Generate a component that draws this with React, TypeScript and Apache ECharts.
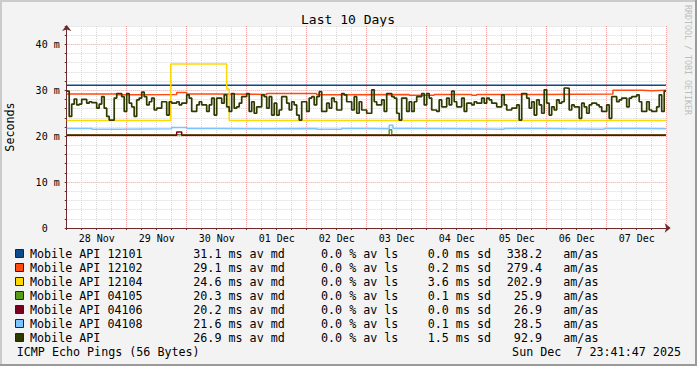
import React, { useEffect, useRef } from 'react';
import * as echarts from 'echarts';

// ---------- data ----------
const dayLabels = ['28 Nov', '29 Nov', '30 Nov', '01 Dec', '02 Dec', '03 Dec', '04 Dec', '05 Dec', '06 Dec', '07 Dec'];
const END_HOUR = 239.7;

const seriesNames = ['Mobile API 12101', 'Mobile API 12102', 'Mobile API 12104', 'Mobile API 04105', 'Mobile API 04106', 'Mobile API 04108', 'Mobile API'];
const seriesColors = ['#0b4a8c', '#ff4a10', '#ffd800', '#5a9a1a', '#7a0020', '#7cc4ff', '#2e3a00'];
const medians = ['31.1', '29.1', '24.6', '20.3', '20.2', '21.6', '26.9'];
const losses = ['0.0', '0.0', '0.0', '0.0', '0.0', '0.0', '0.0'];
const sds = ['0.0', '0.2', '3.6', '0.1', '0.0', '0.1', '1.5'];
const amas = ['338.2', '279.4', '202.9', '25.9', '26.9', '28.5', '92.9'];

// step points (hour since start, ms)
const h12101 = [0];
const v12101 = [31.1];
const h12102 = [0, 20, 26, 44, 48, 60, 80, 100, 104, 137, 147, 162, 164, 190, 218.5, 230, 234];
const v12102 = [29.2, 29.0, 29.1, 29.5, 29.2, 29.1, 29.3, 29.0, 29.1, 28.9, 29.1, 28.9, 29.1, 29.2, 30.0, 29.9, 30.0];
const h12104 = [0, 41.6, 64, 65];
const v12104 = [23.4, 35.7, 30.3, 23.4];
const h04105 = [0, 129, 130];
const v04105 = [20.3, 21.4, 20.3];
const h04106 = [0, 44, 46];
const v04106 = [20.2, 20.9, 20.2];
const h04108 = [0, 10, 20, 42, 48, 60, 80, 100, 110, 120, 129, 130.5, 140, 160, 175, 190, 200, 215, 230];
const v04108 = [21.7, 21.5, 21.6, 21.9, 21.7, 21.6, 21.7, 21.5, 21.7, 21.6, 22.4, 21.7, 21.6, 21.5, 21.7, 21.6, 21.5, 21.7, 21.6];
// Mobile API, hourly
const vApi = [
  29.8, 24.3, 27.0, 28.1, 26.8, 27.0, 28.0, 28.0, 27.2, 27.5, 27.3, 27.3,
  26.1, 27.0, 28.6, 26.1, 24.3, 23.5, 23.5, 28.3, 29.3, 29.3, 28.6, 25.4,
  29.3, 27.2, 26.4, 24.3, 27.9, 28.3, 29.6, 28.6, 26.8, 27.5, 28.3, 25.7,
  26.1, 26.1, 27.5, 27.5, 24.6, 27.5, 27.2, 27.2, 27.5, 26.8, 27.2, 27.2,
  29.0, 28.3, 25.4, 25.4, 26.8, 27.5, 26.8, 26.8, 25.4, 26.8, 28.3, 24.6,
  28.3, 28.3, 27.2, 29.0, 26.4, 25.4, 29.3, 26.1, 26.4, 27.2, 28.6, 28.6,
  29.3, 25.4, 27.5, 25.0, 26.4, 26.4, 29.0, 28.6, 26.1, 28.6, 24.6, 27.2,
  24.6, 25.7, 28.6, 28.6, 27.2, 25.7, 27.5, 26.8, 24.6, 23.5, 27.5, 27.5,
  25.4, 28.3, 28.6, 26.8, 28.6, 29.7, 25.4, 25.4, 27.2, 26.1, 28.3, 27.5,
  25.7, 25.7, 29.3, 29.0, 27.5, 27.5, 25.7, 28.6, 25.0, 27.5, 25.7, 25.7,
  25.0, 25.0, 30.1, 27.5, 26.8, 26.8, 27.9, 25.4, 29.3, 29.3, 28.6, 28.3,
  25.0, 23.5, 28.3, 28.3, 25.4, 27.5, 25.4, 27.5, 28.6, 28.6, 29.3, 26.8,
  29.3, 28.3, 25.7, 25.7, 25.4, 27.9, 26.4, 26.4, 28.3, 26.8, 29.8, 27.5,
  26.4, 26.4, 28.3, 25.4, 27.2, 27.2, 26.8, 27.5, 27.2, 27.2, 28.3, 27.2,
  28.3, 27.9, 27.2, 27.2, 26.4, 26.4, 29.0, 26.8, 25.7, 25.7, 26.1, 26.1,
  26.8, 23.5, 29.3, 29.3, 28.3, 26.1, 27.5, 24.6, 27.9, 26.8, 25.0, 30.1,
  27.2, 24.6, 26.4, 25.7, 27.9, 27.2, 27.5, 30.5, 30.4, 25.7, 26.8, 26.4,
  26.4, 23.9, 27.2, 26.4, 25.0, 26.8, 27.2, 27.2, 26.8, 26.4, 25.4, 25.4,
  26.8, 23.9, 28.6, 28.6, 27.5, 27.9, 28.3, 28.3, 26.4, 28.3, 28.6, 28.6,
  29.0, 27.5, 25.4, 25.4, 27.5, 25.7, 25.4, 25.4, 26.4, 29.0, 25.4, 29.8,
];
const hApi = vApi.map((_, i) => i);

const seriesHours = [h12101, h12102, h12104, h04105, h04106, h04108, hApi];
const seriesValues = [v12101, v12102, v12104, v04105, v04106, v04108, vApi];

function steps(hours: number[], values: number[]) {
  const d: number[][] = hours.map((h, i) => [h, values[i]]);
  d.push([END_HOUR, values[values.length - 1]]);
  return d;
}

const MONO = '"DejaVu Sans Mono", monospace';
const RED_GRID = '#f2a0a0';
const GRAY_GRID = '#d6d6d6';
const AXIS = '#6e2a2a';

export default function App() {
  const ref = useRef<HTMLDivElement>(null);
  useEffect(() => {
    if (!ref.current) return;
    const chart = echarts.init(ref.current, undefined, { renderer: 'svg' });

    const graphics: any[] = [
      { type: 'rect', shape: { x: 0, y: 0, width: 697, height: 2 }, style: { fill: '#cbcbcb' }, silent: true },
      { type: 'rect', shape: { x: 0, y: 0, width: 2, height: 366 }, style: { fill: '#cbcbcb' }, silent: true },
      { type: 'rect', shape: { x: 695, y: 0, width: 2, height: 366 }, style: { fill: '#9a9a9a' }, silent: true },
      { type: 'rect', shape: { x: 0, y: 364, width: 697, height: 2 }, style: { fill: '#9a9a9a' }, silent: true },
      {
        type: 'text', x: 348, y: 19.5,
        style: { text: 'Last 10 Days', font: `13px ${MONO}`, fill: '#000', textAlign: 'center', textVerticalAlign: 'middle', align: 'center', verticalAlign: 'middle' },
      },
      {
        type: 'text', x: 687.5, y: 60, rotation: -Math.PI / 2,
        style: { text: 'RRDTOOL / TOBI OETIKER', font: `8.3px ${MONO}`, fill: '#bdbdbd', textAlign: 'center', textVerticalAlign: 'middle', align: 'center', verticalAlign: 'middle' },
      },
    ];

    const t = (text: string, x: number, y: number, align = 'left') => ({
      type: 'text', x, y,
      style: { text, font: `11.7px ${MONO}`, fill: '#000', textAlign: align, textVerticalAlign: 'middle', align, verticalAlign: 'middle' },
    });

    seriesNames.forEach((name, i) => {
      const y = 254 + i * 14;
      graphics.push({ type: 'rect', shape: { x: 15.5, y: y - 4.5, width: 8, height: 8 }, style: { fill: seriesColors[i], stroke: '#222', lineWidth: 1 } });
      graphics.push(t(name, 30, y));
      graphics.push(t(`${medians[i]} ms av md`, 193.3, y));
      graphics.push(t(`${losses[i]} % av ls`, 321, y));
      graphics.push(t(`${sds[i]} ms sd`, 427.7, y));
      graphics.push(t(amas[i], 542, y, 'right'));
      graphics.push(t('am/as', 563.3, y));
    });
    graphics.push(t('ICMP Echo Pings (56 Bytes)', 16.7, 352));
    graphics.push(t('Sun Dec\u00a0\u00a07 23:41:47 2025', 681, 352, 'right'));

    const series = seriesNames.map((name, i) => ({
      name,
      type: 'line',
      step: 'end',
      symbol: 'none',
      silent: true,
      data: steps(seriesHours[i], seriesValues[i]),
      lineStyle: { color: seriesColors[i], width: i === 6 ? 1.7 : 1.5 },
      itemStyle: { color: seriesColors[i] },
    }));

    chart.setOption({
      animation: false,
      backgroundColor: '#f3f3f3',
      textStyle: { fontFamily: MONO },
      grid: {
        left: 66.7, top: 26, width: 600, height: 202, show: true, backgroundColor: '#ffffff', borderWidth: 0,
        containLabel: false, outerBoundsMode: 'none',
      },
      xAxis: {
        type: 'value', min: 0, max: 240, interval: 6,
        axisLine: { show: true, lineStyle: { color: AXIS, width: 1 }, symbol: ['none', 'arrow'], symbolSize: [7, 6], symbolOffset: [0, 4] },
        axisTick: { show: true, length: 2, lineStyle: { color: AXIS } },
        axisLabel: {
          customValues: dayLabels.map((_, i) => i * 24 + 12),
          formatter: (v: number) => dayLabels[Math.floor(v / 24)] ?? '',
          color: '#000', fontSize: 10, fontFamily: MONO, margin: 5,
        },
        splitLine: { show: true, lineStyle: { color: [RED_GRID, GRAY_GRID, GRAY_GRID, GRAY_GRID], type: [1, 1], width: 1 } },
      },
      yAxis: {
        type: 'value', min: 0, max: 44, interval: 2,
        name: 'Seconds', nameLocation: 'middle', nameRotate: 90, nameGap: 51,
        nameTextStyle: { fontSize: 11.7, fontFamily: MONO, color: '#000' },
        axisLine: { show: true, lineStyle: { color: AXIS, width: 1 }, symbol: ['none', 'arrow'], symbolSize: [7, 6], symbolOffset: [0, 1] },
        axisTick: { show: true, length: 2, lineStyle: { color: AXIS } },
        axisLabel: {
          color: '#000', fontSize: 10, fontFamily: MONO, margin: 7,
          formatter: (v: number) => (v === 0 ? '{z|0}' : v % 10 === 0 ? `${v} m` : ''),
          rich: { z: { fontSize: 10, fontFamily: MONO, color: '#000', padding: [0, 12, 0, 0] } },
        },
        splitLine: { show: true, lineStyle: { color: [RED_GRID, GRAY_GRID, GRAY_GRID, GRAY_GRID, GRAY_GRID], type: [1, 1], width: 1 } },
      },
      graphic: { elements: graphics },
      series,
    });

    return () => chart.dispose();
  }, []);

  return <div ref={ref} style={{ position: 'fixed', left: 0, top: 0, width: 697, height: 366 }} />;
}
